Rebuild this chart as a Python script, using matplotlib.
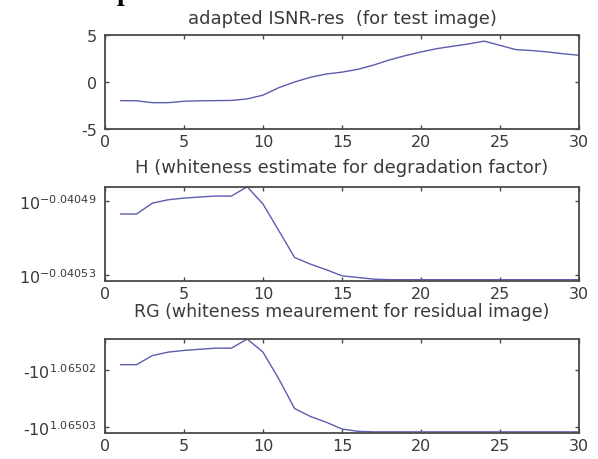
import matplotlib

matplotlib.use("Agg")
import matplotlib.pyplot as plt

# iterations 1..30
iters = list(range(1, 31))

# adapted ISNR-res (dB)
isnr = [-1.98, -2.0, -2.2, -2.2, -2.05, -2.0, -1.98, -1.96, -1.8, -1.4,
        -0.6, 0.0, 0.5, 0.85, 1.05, 1.35, 1.8, 2.35, 2.8, 3.2,
        3.55, 3.8, 4.05, 4.35, 3.9, 3.45, 3.35, 3.2, 3.0, 2.85]

# H: log10 of whiteness estimate
h_exp = [-0.0404970, -0.0404970, -0.0404911, -0.0404893, -0.0404884, -0.0404878,
         -0.0404873, -0.0404873, -0.0404823, -0.0404916, -0.0405060, -0.0405205,
         -0.0405241, -0.0405271, -0.0405304, -0.0405313, -0.0405322, -0.0405325,
         -0.0405325, -0.0405325, -0.0405325, -0.0405325, -0.0405325, -0.0405325,
         -0.0405325, -0.0405325, -0.0405325, -0.0405325, -0.0405325, -0.0405325]

# RG: values are -10**rg_exp
rg_exp = [1.0650191, 1.0650191, 1.0650175, 1.0650169, 1.0650166, 1.0650164,
          1.0650162, 1.0650162, 1.0650146, 1.0650169, 1.0650216, 1.0650268,
          1.0650282, 1.0650292, 1.0650304, 1.0650308, 1.0650309, 1.0650309,
          1.0650309, 1.0650309, 1.0650309, 1.0650309, 1.0650309, 1.0650309,
          1.0650309, 1.0650309, 1.0650309, 1.0650309, 1.0650309, 1.0650309]

titles = ["adapted ISNR-res  (for test image)",
          "H (whiteness estimate for degradation factor)",
          "RG (whiteness meaurement for residual image)"]
x_ticks = [0, 5, 10, 15, 20, 25, 30]
h_ticks = [-0.04053, -0.04049]
rg_ticks = [1.06502, 1.06503]

LINE = "#5c5cb0"
TXT = "#3a3a3a"
SPINE = "#4a4a4a"

plt.rcParams["font.family"] = "DejaVu Sans"
plt.rcParams["font.size"] = 12
plt.rcParams["axes.unicode_minus"] = False

fig = plt.figure(figsize=(5.98, 4.60), dpi=100)
ax1 = fig.add_axes([0.1756, 0.7174, 0.7926, 0.2043])
ax2 = fig.add_axes([0.1756, 0.3870, 0.7926, 0.2043])
ax3 = fig.add_axes([0.1756, 0.0565, 0.7926, 0.2043])

ax1.plot(iters, isnr, color=LINE, lw=1.0)
ax1.set_ylim(-5, 5)
ax1.set_yticks([-5, 0, 5])

ax2.plot(iters, h_exp, color=LINE, lw=1.0)
ax2.set_ylim(-0.0405332, -0.0404824)
ax2.set_yticks(h_ticks)
ax2.set_yticklabels([r"$10^{\mathrm{%.5f}}$" % t for t in h_ticks])

ax3.plot(iters, rg_exp, color=LINE, lw=1.0)
ax3.set_ylim(1.0650311, 1.0650146)
ax3.set_yticks(rg_ticks)
ax3.set_yticklabels([r"-$10^{%.5f}$" % t for t in rg_ticks])

pads = [9.0, 10.5, 16.5]
sizes = [13, 13, 12.5]
for ax, title, pad, fs in zip([ax1, ax2, ax3], titles, pads, sizes):
    ax.set_xlim(0, 30)
    ax.set_xticks(x_ticks)
    ax.set_title(title, fontsize=fs, color=TXT, pad=pad)
    ax.tick_params(direction="in", length=3, width=1, colors=SPINE,
                   labelcolor=TXT, top=True, right=True, labelsize=11.5)
    ax.tick_params(axis="x", pad=3.5)
    ax.tick_params(axis="y", pad=6)
    for sp in ax.spines.values():
        sp.set_color(SPINE)
        sp.set_linewidth(1.3)

# cropped heading fragment at the very top
fig.text(117 / 598, 1.0, "p", family="Liberation Serif", fontweight="bold",
         fontsize=20, color="black", va="baseline", ha="left")

fig.savefig("out.png", dpi=100)
